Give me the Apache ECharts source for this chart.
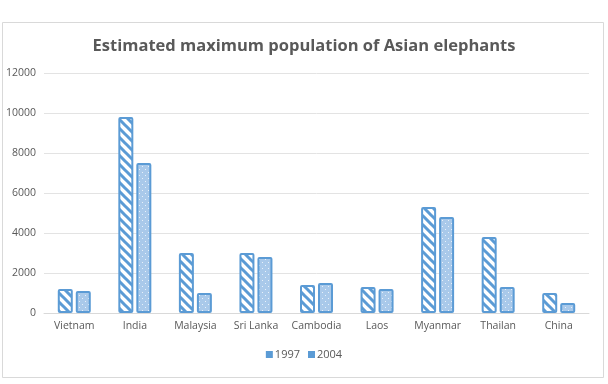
<!DOCTYPE html>
<html>
<head>
<meta charset="utf-8">
<script src="https://cdn.jsdelivr.net/npm/echarts@6/dist/echarts.min.js"></script>
<style>
html,body{margin:0;padding:0;background:#fff;}
#chart{width:608px;height:384px;}
</style>
</head>
<body>
<div id="chart"></div>
<script>
const categories = ['Vietnam','India','Malaysia','Sri Lanka','Cambodia','Laos','Myanmar','Thailan','China'];
const values1997 = [1200, 9800, 3000, 3000, 1400, 1300, 5300, 3800, 1000];
const values2004 = [1100, 7500, 1000, 2800, 1500, 1200, 4800, 1300, 500];
const seriesNames = ['1997','2004'];
const yTicks = [0, 2000, 4000, 6000, 8000, 10000, 12000];

const BLUE = '#5b9bd5';

function stripePattern(){
  const c = document.createElement('canvas');
  c.width = 9; c.height = 9;
  const g = c.getContext('2d');
  g.fillStyle = '#ffffff'; g.fillRect(0,0,9,9);
  g.strokeStyle = BLUE; g.lineWidth = 3;
  g.beginPath();
  for (let k=-2;k<=2;k++){
    g.moveTo(k*9-2, -2); g.lineTo(k*9+11, 11);
  }
  g.stroke();
  return c;
}
function dotPattern(){
  const c = document.createElement('canvas');
  c.width = 6; c.height = 6;
  const g = c.getContext('2d');
  g.fillStyle = '#a9c9ea'; g.fillRect(0,0,6,6);
  g.fillStyle = '#e8f1fa';
  g.fillRect(1,1,1,1); g.fillRect(4,4,1,1);
  return c;
}

const chart = echarts.init(document.getElementById('chart'), null, {renderer:'canvas'});
chart.setOption({
  animation:false,
  backgroundColor:'#ffffff',
  graphic:[{type:'rect', shape:{x:2.5,y:22.5,width:601,height:355}, style:{fill:'none', stroke:'#d9d9d9', lineWidth:1}, silent:true}],
  title:{
    text:'Estimated maximum population of Asian elephants',
    left:'center', top:33,
    textStyle:{fontFamily:'Open Sans', fontSize:16.5, fontWeight:'bold', color:'#595959'}
  },
  legend:{
    bottom:19, left:'center',
    itemWidth:7, itemHeight:7, itemGap:8,
    icon:'rect',
    textStyle:{fontFamily:'Open Sans', fontSize:11, color:'#595959', padding:[0,0,0,-3]},
    data:[{name:seriesNames[0], itemStyle:{color:BLUE, borderWidth:0}},{name:seriesNames[1], itemStyle:{color:BLUE, borderWidth:0}}]
  },
  grid:{left:44, right:19, top:73, bottom:71, containLabel:false},
  xAxis:{
    type:'category', data:categories,
    axisLine:{show:true, lineStyle:{color:'#d9d9d9'}},
    axisTick:{show:false},
    axisLabel:{fontFamily:'Open Sans', fontSize:10.5, color:'#595959', margin:8, interval:0}
  },
  yAxis:{
    type:'value', min:yTicks[0], max:yTicks[yTicks.length-1], interval:2000,
    axisLine:{show:false}, axisTick:{show:false},
    axisLabel:{fontFamily:'Open Sans', fontSize:10.5, color:'#595959', margin:8, formatter:function(v){return String(v);}},
    splitLine:{lineStyle:{color:'#e3e3e3'}}
  },
  series:[
    {name:seriesNames[0], type:'bar', data:values1997, barWidth:15, barGap:'20%',
     itemStyle:{color:{image:stripePattern(), repeat:'repeat'}, borderColor:BLUE, borderWidth:2, borderRadius:1}},
    {name:seriesNames[1], type:'bar', data:values2004, barWidth:15,
     itemStyle:{color:{image:dotPattern(), repeat:'repeat'}, borderColor:BLUE, borderWidth:2, borderRadius:1}}
  ]
});
</script>
</body>
</html>
